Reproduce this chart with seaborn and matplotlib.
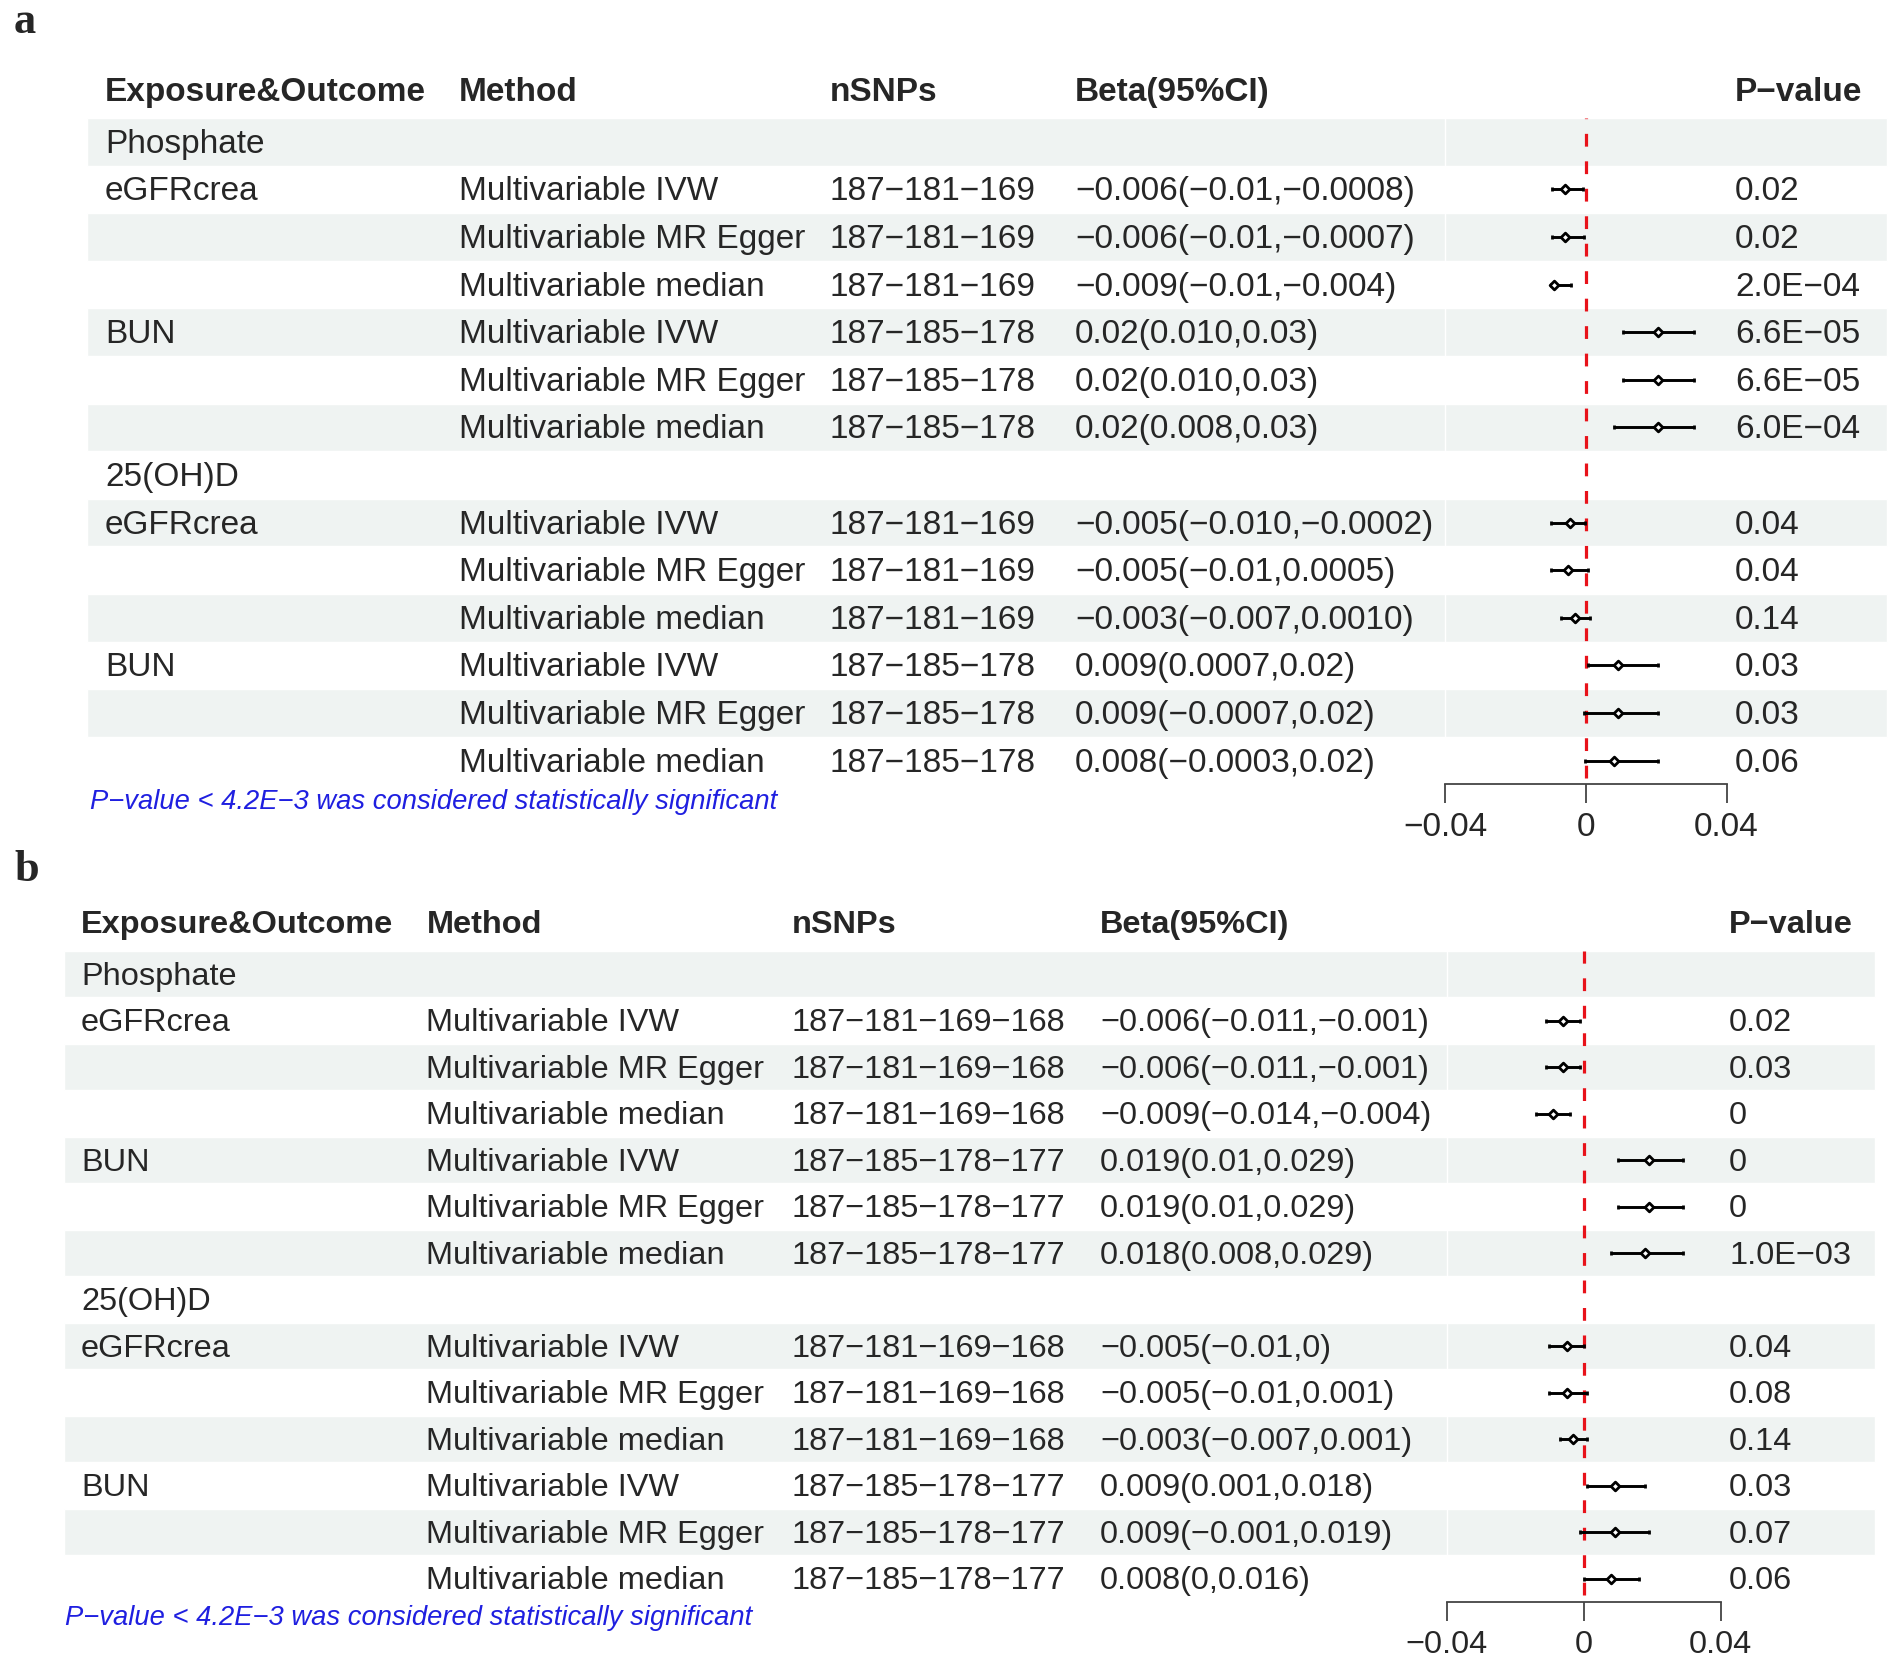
import numpy as np
import pandas as pd
import matplotlib
matplotlib.use("Agg")
import matplotlib.pyplot as plt
import seaborn as sns

exposures = ["Phosphate", "25(OH)D"]
outcomes = ["eGFRcrea", "BUN"]
methods = ["Multivariable IVW", "Multivariable MR Egger", "Multivariable median"]
headers = ["Exposure&Outcome", "Method", "nSNPs", "Beta(95%CI)", "P−value"]
note = "P−value < 4.2E−3 was considered statistically significant"
ticks = [-0.04, 0, 0.04]
tick_labels = ["−0.04", "0", "0.04"]

# panel a
a_nsnps = ["187−181−169", "187−185−178"]
a_beta_txt = ["−0.006(−0.01,−0.0008)", "−0.006(−0.01,−0.0007)", "−0.009(−0.01,−0.004)",
              "0.02(0.010,0.03)", "0.02(0.010,0.03)", "0.02(0.008,0.03)",
              "−0.005(−0.010,−0.0002)", "−0.005(−0.01,0.0005)", "−0.003(−0.007,0.0010)",
              "0.009(0.0007,0.02)", "0.009(−0.0007,0.02)", "0.008(−0.0003,0.02)"]
a_beta = [-0.006, -0.006, -0.009, 0.0205, 0.0205, 0.0205, -0.0045, -0.005, -0.003, 0.009, 0.009, 0.008]
a_lo = [-0.0097, -0.0097, -0.0099, 0.0104, 0.0104, 0.008, -0.0100, -0.0100, -0.007, 0.0007, -0.0007, -0.0003]
a_hi = [-0.0008, -0.0007, -0.0042, 0.0306, 0.0306, 0.0306, -0.0002, 0.0005, 0.0010, 0.0205, 0.0205, 0.0205]
a_pval = ["0.02", "0.02", "2.0E−04", "6.6E−05", "6.6E−05", "6.0E−04",
          "0.04", "0.04", "0.14", "0.03", "0.03", "0.06"]

# panel b
b_nsnps = ["187−181−169−168", "187−185−178−177"]
b_beta_txt = ["−0.006(−0.011,−0.001)", "−0.006(−0.011,−0.001)", "−0.009(−0.014,−0.004)",
              "0.019(0.01,0.029)", "0.019(0.01,0.029)", "0.018(0.008,0.029)",
              "−0.005(−0.01,0)", "−0.005(−0.01,0.001)", "−0.003(−0.007,0.001)",
              "0.009(0.001,0.018)", "0.009(−0.001,0.019)", "0.008(0,0.016)"]
b_beta = [-0.006, -0.006, -0.009, 0.019, 0.019, 0.018, -0.005, -0.005, -0.003, 0.009, 0.009, 0.008]
b_lo = [-0.011, -0.011, -0.014, 0.010, 0.010, 0.008, -0.010, -0.010, -0.007, 0.001, -0.001, 0.000]
b_hi = [-0.001, -0.001, -0.004, 0.029, 0.029, 0.029, 0.000, 0.001, 0.001, 0.018, 0.019, 0.016]
b_pval = ["0.02", "0.03", "0", "0", "0", "1.0E−03",
          "0.04", "0.08", "0.14", "0.03", "0.07", "0.06"]


def build(nsnps, beta_txt, beta, lo, hi, pval):
    rows = []
    i = 0
    for e in exposures:
        rows.append(dict(col1=e, method="", nsnp="", txt="", beta=np.nan, lo=np.nan, hi=np.nan, p=""))
        for k, o in enumerate(outcomes):
            for j, m in enumerate(methods):
                rows.append(dict(col1=o if j == 0 else "", method=m, nsnp=nsnps[k], txt=beta_txt[i],
                                 beta=beta[i], lo=lo[i], hi=hi[i], p=pval[i]))
                i += 1
    df = pd.DataFrame(rows)
    df["row"] = np.arange(len(df))
    return df


sns.set_theme(style="white")
plt.rcParams["font.family"] = ["Liberation Sans", "DejaVu Sans"]

W, H = 1900, 1667
fig = plt.figure(figsize=(W / 100, H / 100), dpi=100)
bg = fig.add_axes([0, 0, 1, 1], zorder=0)
bg.set_xlim(0, W)
bg.set_ylim(H, 0)
bg.axis("off")


def panel(df, tag, tag_xy, head_y, y0, dy, cols, shade, zero_px, half_px, note_xy, fs):
    n = len(df)
    bg.text(tag_xy[0], tag_xy[1], tag, family="Liberation Serif", fontweight="bold",
            fontsize=32, va="center", ha="left")
    for x, h in zip(cols, headers):
        bg.text(x, head_y, h, fontsize=fs, fontweight="bold", va="center", ha="left")
    yc = y0 + df["row"].to_numpy() * dy
    shaded = df["row"] % 2 == 0
    bg.barh(yc[shaded], shade[1] - shade[0], left=shade[0], height=dy, color="#eff3f2", zorder=0)
    bg.vlines(zero_px - half_px, y0 - dy / 2, yc[-1] + dy / 2, color="white", lw=1, zorder=0.5)
    for y, (_, r) in zip(yc, df.iterrows()):
        for x, val in zip(cols, [r.col1, r.method, r.nsnp, r.txt, r.p]):
            if val:
                bg.text(x, y + 2.5, val, fontsize=fs, va="center", ha="left")
    bg.text(note_xy[0], note_xy[1], note, color="#1f1fe0", style="italic", fontsize=19.7,
            va="center", ha="left")

    top = y0 - dy / 2
    bottom = y0 + dy * (n - 0.5)
    fa = fig.add_axes([(zero_px - half_px) / W, 1 - bottom / H, 2 * half_px / W, (bottom - top) / H],
                      zorder=1)
    fa.patch.set_alpha(0)
    d = df.dropna(subset=["beta"])
    fa.errorbar(d["beta"], d["row"], xerr=[d["beta"] - d["lo"], d["hi"] - d["beta"]], fmt="none",
                ecolor="black", elinewidth=2.1, capsize=1.6, capthick=2, zorder=2)
    sns.scatterplot(data=d, x="beta", y="row", marker="D", s=20, color="white",
                    edgecolor="black", linewidth=2.0, ax=fa, zorder=3, legend=False)
    fa.axvline(0, ymin=0.01, ymax=1, color="#e8121a", ls=(0, (4, 4.6)), lw=2.3, zorder=1)
    fa.set_xlim(-0.04, 0.04)
    fa.set_ylim(n - 0.5, -0.5)
    fa.set_xlabel("")
    fa.set_ylabel("")
    fa.set_yticks([])
    fa.set_xticks(ticks)
    fa.set_xticklabels(tick_labels)
    for s in ["left", "top", "right"]:
        fa.spines[s].set_visible(False)
    fa.spines["bottom"].set_color("#444444")
    fa.spines["bottom"].set_linewidth(1.3)
    fa.tick_params(axis="x", direction="out", bottom=True, length=14, width=1.3, color="#444444",
                   labelsize=fs, pad=6)


df_a = build(a_nsnps, a_beta_txt, a_beta, a_lo, a_hi, a_pval)
df_b = build(b_nsnps, b_beta_txt, b_beta, b_lo, b_hi, b_pval)

panel(df_a, "a", (14, 22), 92, 141.8, 47.6, [105, 459, 830, 1075, 1735], (87, 1887),
      1586, 140.6, (90, 802), 24)
panel(df_b, "b", (14, 870), 925, 974.2, 46.5, [81, 426.5, 792, 1100, 1729], (64, 1874.5),
      1583.7, 137, (65, 1618), 23.4)

fig.savefig("out.png", dpi=100)
